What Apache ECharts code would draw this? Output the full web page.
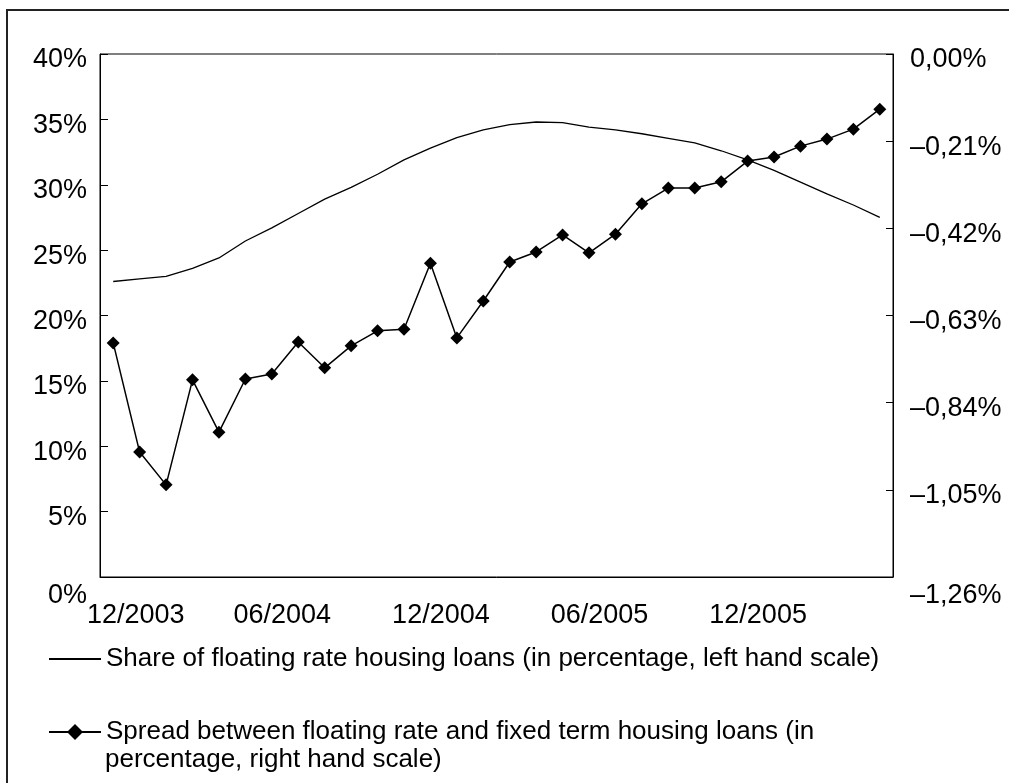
<!DOCTYPE html>
<html>
<head>
<meta charset="utf-8">
<script src="https://cdn.jsdelivr.net/npm/echarts@6/dist/echarts.min.js"></script>
<style>
    html, body { margin: 0; padding: 0; background: #fff; }
    #lineChart { width: 1009px; height: 783px; }
</style>
</head>
<body>
<div id="lineChart"></div>
<script>
    // months, 12/2003 .. 05/2006
    const months = [
        '12/2003', '01/2004', '02/2004', '03/2004', '04/2004', '05/2004',
        '06/2004', '07/2004', '08/2004', '09/2004', '10/2004', '11/2004',
        '12/2004', '01/2005', '02/2005', '03/2005', '04/2005', '05/2005',
        '06/2005', '07/2005', '08/2005', '09/2005', '10/2005', '11/2005',
        '12/2005', '01/2006', '02/2006', '03/2006', '04/2006', '05/2006'
    ];
    // share of floating rate housing loans, % (left scale)
    const shareData = [
        22.6, 22.8, 23.0, 23.6, 24.4, 25.7, 26.7, 27.8, 28.9, 29.8,
        30.8, 31.9, 32.8, 33.6, 34.2, 34.6, 34.8, 34.75, 34.4, 34.2,
        33.9, 33.55, 33.2, 32.6, 31.9, 31.1, 30.2, 29.3, 28.45, 27.5
    ];
    // spread floating vs fixed term, % (right scale)
    const spreadData = [
        -0.696, -0.959, -1.038, -0.785, -0.911, -0.783, -0.771, -0.694, -0.756, -0.703,
        -0.667, -0.663, -0.504, -0.684, -0.595, -0.501, -0.477, -0.436, -0.479, -0.434,
        -0.361, -0.323, -0.323, -0.308, -0.258, -0.248, -0.222, -0.205, -0.181, -0.133
    ];
    const leftTicks = { min: 0, max: 40, step: 5 };
    const rightTicks = { min: -1.26, max: 0, step: 0.21 };

    const shareName = 'Share of floating rate housing loans (in percentage, left hand scale)';
    const spreadName = 'Spread between floating rate and fixed term housing loans (in';
    const spreadName2 = 'percentage, right hand scale)';

    const font = '"Liberation Sans", Arial, sans-serif';

    let lineChart = echarts.init(document.getElementById('lineChart'));

    // bottom label of each y axis sits a bit lower, like the original
    const lowRich = { low: { padding: [26, 0, 0, 0], fontSize: 27 } };

    const option = {
        animation: false,
        textStyle: { fontFamily: font, color: '#000' },
        graphic: [{
            // outer frame
            type: 'rect',
            shape: { x: 7, y: 10, width: 1030, height: 820 },
            style: { fill: 'none', stroke: '#222', lineWidth: 2 },
            silent: true
        }, {
            // second line of the spread legend entry
            type: 'text',
            left: 105,
            top: 747,
            style: { text: spreadName2, fontSize: 26, fontFamily: font, fill: '#000' },
            silent: true
        }],
        grid: {
            left: 100,
            right: 116,
            top: 54,
            bottom: 206,
            show: true,
            borderColor: '#000',
            borderWidth: 1
        },
        legend: [{
            data: [shareName],
            left: 48,
            top: 646,
            padding: 0,
            itemWidth: 52,
            itemHeight: 20,
            itemStyle: { opacity: 0 },
            textStyle: { fontSize: 26, color: '#000', fontFamily: font }
        }, {
            data: [spreadName],
            left: 48,
            top: 719,
            padding: 0,
            itemWidth: 52,
            itemHeight: 20,
            textStyle: { fontSize: 26, color: '#000', fontFamily: font }
        }],
        xAxis: {
            type: 'category',
            boundaryGap: true,
            data: months,
            axisLine: { lineStyle: { color: '#000', width: 1 } },
            axisTick: { inside: true, interval: 5, length: 7, lineStyle: { color: '#000' } },
            axisLabel: {
                interval: 5,
                fontSize: 27,
                color: '#000',
                margin: 25,
                padding: [0, 0, 0, 21],
                formatter: function(v, i) {
                    return i === 0 ? '{first|' + v + '}' : v;
                },
                rich: { first: { padding: [0, 0, 0, 24], fontSize: 27 } }
            },
            splitLine: { show: false }
        },
        yAxis: [{
            type: 'value',
            position: 'left',
            min: leftTicks.min,
            max: leftTicks.max,
            interval: leftTicks.step,
            axisLine: { show: true, lineStyle: { color: '#000' } },
            axisTick: { show: true, inside: true, length: 8, lineStyle: { color: '#000' } },
            axisLabel: {
                fontSize: 27,
                color: '#000',
                margin: 13,
                padding: [12, 0, 0, 0],
                formatter: function(v) {
                    return v === leftTicks.min ? '{low|' + v + '%}' : v + '%';
                },
                rich: lowRich
            },
            splitLine: { show: false }
        }, {
            type: 'value',
            position: 'right',
            min: rightTicks.min,
            max: rightTicks.max,
            interval: rightTicks.step,
            axisLine: { show: true, lineStyle: { color: '#000' } },
            axisTick: { show: true, inside: true, length: 7, lineStyle: { color: '#000' } },
            axisLabel: {
                fontSize: 27,
                color: '#000',
                margin: 17,
                padding: [12, 0, 0, 0],
                formatter: function(v) {
                    const s = v.toFixed(2).replace('.', ',').replace('-', '\u2013') + '%';
                    return Math.abs(v - rightTicks.min) < 1e-6 ? '{low|' + s + '}' : s;
                },
                rich: lowRich
            },
            splitLine: { show: false }
        }],
        series: [{
            name: shareName,
            type: 'line',
            yAxisIndex: 0,
            data: shareData,
            symbol: 'none',
            lineStyle: { color: '#000', width: 1.3 },
            itemStyle: { color: '#000' }
        }, {
            name: spreadName,
            type: 'line',
            yAxisIndex: 1,
            data: spreadData,
            symbol: 'diamond',
            symbolSize: 13,
            lineStyle: { color: '#000', width: 1.5 },
            itemStyle: { color: '#000' }
        }]
    };

    lineChart.setOption(option);
</script>
</body>
</html>
